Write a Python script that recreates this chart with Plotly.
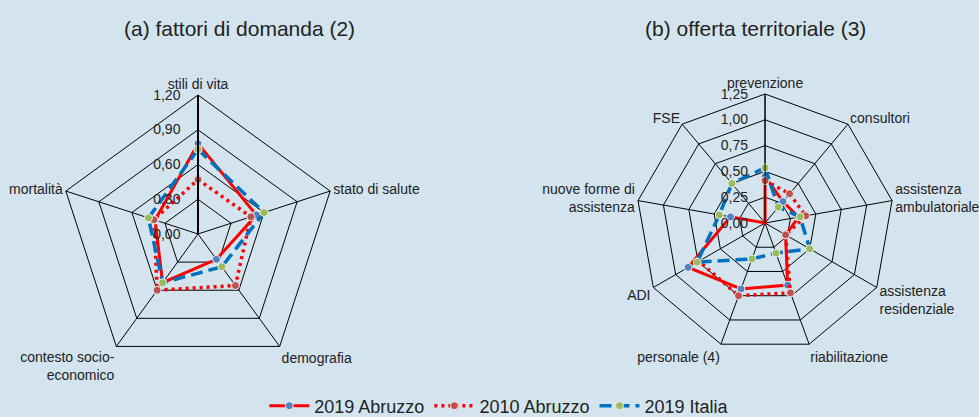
import plotly.graph_objects as go

# data
dom_axes = ["stili di vita", "stato di salute", "demografia",
            "contesto socio-<br>economico", "mortalità"]
dom_abr19 = [0.78, 0.53, 0.27, 0.52, 0.39]
dom_abr10 = [0.47, 0.48, 0.55, 0.60, 0.40]
dom_ita19 = [0.73, 0.60, 0.35, 0.52, 0.45]

off_axes = ["prevenzione", "consultori", "assistenza<br>ambulatoriale",
            "assistenza<br>residenziale", "riabilitazione", "personale (4)",
            "ADI", "nuove forme di<br>assistenza", "FSE"]
off_abr19 = [0.45, 0.27, 0.33, 0.23, 0.64, 0.68, 0.86, 0.34, 0.00]
off_abr10 = [0.41, 0.37, 0.40, 0.23, 0.72, 0.75, 0.74, None, None]
off_ita19 = [0.535, 0.20, 0.345, 0.50, 0.31, 0.37, 0.76, 0.45, 0.50]

series = ["2019 Abruzzo", "2010 Abruzzo", "2019 Italia"]

FONT = "Liberation Sans, Arial, sans-serif"
BG = "#D3E4EE"

styles = {
    "2019 Abruzzo": dict(line=dict(color="#FF0000", width=3, dash="solid"), mcol="#4F81BD"),
    "2010 Abruzzo": dict(line=dict(color="#FF0000", width=3.5, dash="3px,4px"), mcol="#C0504D"),
    "2019 Italia": dict(line=dict(color="#0070C0", width=3.5, dash="12px,6px"), mcol="#9BBB59"),
}


def closed(vals):
    return list(vals) + [vals[0]]


fig = go.Figure()

for name, vals in zip(series, [dom_abr19, dom_abr10, dom_ita19]):
    st = styles[name]
    fig.add_trace(go.Scatterpolar(
        r=closed(vals), theta=closed(dom_axes), mode="lines+markers",
        name=name, subplot="polar", line=st["line"],
        marker=dict(size=8, color=st["mcol"], line=dict(color="#E8EEF2", width=1)),
        connectgaps=False, legendgroup=name))

for name, vals in zip(series, [off_abr19, off_abr10, off_ita19]):
    st = styles[name]
    fig.add_trace(go.Scatterpolar(
        r=closed(vals), theta=closed(off_axes), mode="lines+markers",
        name=name, subplot="polar2", line=st["line"],
        marker=dict(size=8, color=st["mcol"], line=dict(color="#E8EEF2", width=1)),
        connectgaps=False, legendgroup=name, showlegend=False))

PAD = "\u00a0\u00a0\u00a0"


def polar_layout(domx, domy, rng, dtick, axis_w):
    return dict(
        domain=dict(x=domx, y=domy),
        bgcolor="rgba(0,0,0,0)",
        gridshape="linear",
        radialaxis=dict(range=rng, dtick=dtick, tickformat=".2f", angle=90,
                        side="counterclockwise", tickangle=90, ticks="",
                        ticksuffix=PAD,
                        showline=True, linecolor="black", linewidth=axis_w,
                        gridcolor="black", gridwidth=1,
                        tickfont=dict(size=14, color="#222")),
        angularaxis=dict(rotation=90, direction="clockwise", ticks="",
                         showline=True, linecolor="black", linewidth=1,
                         gridcolor="black", gridwidth=1,
                         tickfont=dict(size=14, color="#222")),
    )


fig.update_layout(
    width=979, height=417,
    margin=dict(l=0, r=0, t=0, b=0, autoexpand=False),
    paper_bgcolor=BG, plot_bgcolor=BG,
    separators=",.",
    font=dict(family=FONT, color="#222"),
    polar=polar_layout([0.0603, 0.3442], [0.1055, 0.7722], [0, 1.2], 0.3, 2),
    polar2=polar_layout([0.6497, 0.9132], [0.1559, 0.7746], [0, 1.25], 0.25, 1),
    legend=dict(orientation="h", x=0.51, xanchor="center", y=-0.018, yanchor="bottom",
                bgcolor="rgba(0,0,0,0)", font=dict(size=18, color="#222"),
                itemwidth=40, tracegroupgap=0),
    annotations=[
        dict(text="(a) fattori di domanda (2)", x=239 / 979, y=1 - 28 / 417,
             xref="paper", yref="paper", xanchor="center", yanchor="middle",
             showarrow=False, font=dict(size=21)),
        dict(text="(b) offerta territoriale (3)", x=755 / 979, y=1 - 28 / 417,
             xref="paper", yref="paper", xanchor="center", yanchor="middle",
             showarrow=False, font=dict(size=21)),
    ],
)

fig.write_html("out.html", config={"displayModeBar": False}, post_script=(
    "document.body.style.margin='0px';"
    "document.body.style.overflow='hidden';"
    f"document.body.style.background='{BG}';"))
